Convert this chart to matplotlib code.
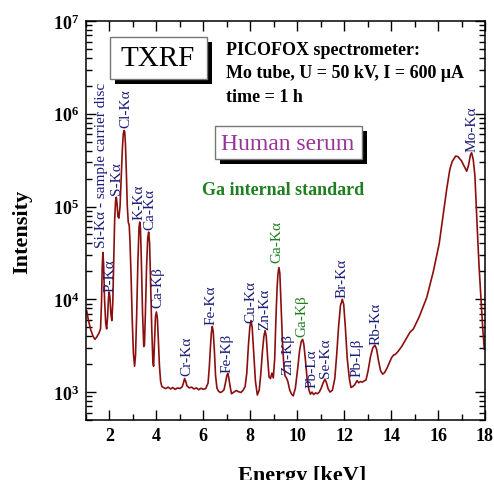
import matplotlib
matplotlib.use("Agg")
import matplotlib.pyplot as plt
from matplotlib.patches import Rectangle
from matplotlib.ticker import FixedLocator, FixedFormatter, MultipleLocator, LogLocator, NullFormatter

plt.rcParams['font.family'] = ['Liberation Serif', 'DejaVu Serif']
plt.rcParams['mathtext.fontset'] = 'custom'
plt.rcParams['mathtext.rm'] = 'Liberation Serif:bold'
plt.rcParams['mathtext.it'] = 'Liberation Serif:bold'
plt.rcParams['mathtext.bf'] = 'Liberation Serif:bold'

# spectrum: energy [keV] and counts
energy = [1.03, 1.10, 1.20, 1.30, 1.38, 1.45, 1.55, 1.62, 1.66, 1.69, 1.72, 1.75, 1.79, 1.84,
          1.88, 1.92, 1.96, 1.99, 2.02, 2.06, 2.10, 2.14, 2.18, 2.22, 2.26, 2.29, 2.32, 2.36,
          2.40, 2.45, 2.50, 2.55, 2.59, 2.62, 2.65, 2.68, 2.72, 2.76, 2.80, 2.84, 2.87, 2.92,
          2.97, 3.02, 3.07, 3.11, 3.16, 3.21, 3.26, 3.29, 3.32, 3.36, 3.41, 3.46, 3.49, 3.53,
          3.58, 3.63, 3.67, 3.71, 3.75, 3.80, 3.85, 3.88, 3.92, 3.96, 4.00, 4.04, 4.08, 4.13,
          4.18, 4.23, 4.30, 4.40, 4.50, 4.60, 4.70, 4.80, 4.90, 5.00, 5.10, 5.15, 5.20, 5.25,
          5.30, 5.40, 5.50, 5.60, 5.70, 5.80, 5.90, 6.00, 6.10, 6.20, 6.25, 6.30, 6.34, 6.38,
          6.42, 6.47, 6.52, 6.58, 6.65, 6.72, 6.80, 6.88, 6.94, 7.00, 7.04, 7.08, 7.14, 7.20,
          7.30, 7.40, 7.50, 7.60, 7.70, 7.78, 7.85, 7.92, 7.98, 8.03, 8.08, 8.15, 8.22, 8.30,
          8.38, 8.45, 8.52, 8.58, 8.63, 8.68, 8.74, 8.80, 8.86, 8.92, 8.98, 9.04, 9.09, 9.14,
          9.18, 9.22, 9.26, 9.31, 9.37, 9.43, 9.48, 9.54, 9.60, 9.68, 9.76, 9.83, 9.92, 10.02,
          10.10, 10.17, 10.23, 10.28, 10.35, 10.42, 10.50, 10.56, 10.63, 10.70, 10.78, 10.86, 10.94,
          11.02, 11.10, 11.18, 11.25, 11.32, 11.40, 11.50, 11.60, 11.68, 11.76, 11.84, 11.92, 11.98,
          12.05, 12.13, 12.22, 12.29, 12.37, 12.45, 12.55, 12.62, 12.70, 12.78, 12.85, 12.93, 13.02,
          13.12, 13.22, 13.31, 13.38, 13.46, 13.55, 13.64, 13.72, 13.82, 13.92, 14.02, 14.10, 14.18,
          14.30, 14.45, 14.60, 14.80, 14.95, 15.20, 15.52, 15.80, 16.05, 16.20, 16.37, 16.50, 16.60,
          16.75, 16.85, 17.00, 17.15, 17.22, 17.30, 17.38, 17.43, 17.50, 17.57, 17.62, 17.67, 17.75,
          17.82, 17.90, 17.97]
counts = [7500, 6000, 4700, 4000, 3700, 3900, 4300, 4800, 9000, 22000, 32000, 24000, 10000, 5500,
          4800, 6500, 10500, 12000, 10500, 7000, 5900, 9000, 25000, 70000, 115000, 126000, 110000, 78000,
          75000, 100000, 200000, 420000, 610000, 660000, 640000, 480000, 230000, 100000, 68000, 63000, 45000, 18000,
          6000, 2600, 1900, 2500, 7000, 25000, 60000, 68000, 58000, 25000, 7000, 3100, 3200, 7000,
          22000, 46000, 53000, 40000, 16000, 5000, 2100, 1900, 3500, 6500, 7300, 6300, 3800, 1900,
          1300, 1150, 1120, 1090, 1130, 1080, 1120, 1070, 1110, 1090, 1140, 1250, 1400, 1300,
          1170, 1110, 1130, 1080, 1110, 1060, 1100, 1070, 1090, 1250, 1800, 3000, 4300, 5100,
          4500, 2800, 1500, 1100, 1020, 990, 1010, 1060, 1250, 1500, 1590, 1450, 1150, 960,
          1000, 1040, 1010, 990, 1050, 1150, 1600, 3200, 5000, 5900, 5000, 2600, 1300, 930,
          1050, 1600, 2800, 4000, 4600, 4000, 2300, 1450, 1400, 1600, 1420, 2300, 6000, 13000,
          19000, 22000, 19000, 9000, 3500, 1900, 1500, 1420, 1300, 1050, 950, 910, 1100, 1800,
          2800, 3500, 3700, 3300, 2200, 1400, 1050, 950, 1000, 940, 980, 960, 1000,
          1100, 1250, 1380, 1250, 1080, 1000, 1050, 1400, 2500, 5000, 8500, 10000, 8800,
          5000, 2300, 1400, 1120, 1150, 1200, 1330, 1260, 1300, 1280, 1320, 1350, 1700,
          2400, 3000, 3200, 2900, 2200, 1700, 1560, 1620, 1800, 2050, 2350, 2500, 2550,
          2750, 3100, 3600, 4400, 4800, 6500, 10500, 20000, 40000, 75000, 155000, 250000, 305000,
          350000, 345000, 310000, 260000, 240000, 280000, 360000, 380000, 320000, 215000, 110000, 58000, 22000,
          11000, 5000, 2900]

# peak labels: text, energy, count at label foot, colour
navy = '#1c1c7a'
green = '#1f7f1f'
peak_labels = [
    ('Si-K\u03b1 - sample carrier disc', 1.67, 3.66e4, navy),
    ('P-K\u03b1', 2.02, 1.24e4, navy),
    ('S-K\u03b1', 2.31, 1.36e5, navy),
    ('Cl-K\u03b1', 2.70, 7.2e5, navy),
    ('K-K\u03b1', 3.27, 7.3e4, navy),
    ('Ca-K\u03b1', 3.71, 5.7e4, navy),
    ('Ca-K\u03b2', 4.08, 8.2e3, navy),
    ('Cr-K\u03b1', 5.30, 1520, navy),
    ('Fe-K\u03b1', 6.33, 5400, navy),
    ('Fe-K\u03b2', 7.03, 1640, navy),
    ('Cu-K\u03b1', 8.03, 5700, navy),
    ('Zn-K\u03b1', 8.63, 4780, navy),
    ('Ga-K\u03b1', 9.12, 2.52e4, green),
    ('Zn-K\u03b2', 9.59, 1560, navy),
    ('Ga-K\u03b2', 10.19, 4020, green),
    ('Pb-L\u03b1', 10.62, 1130, navy),
    ('Se-K\u03b1', 11.21, 1450, navy),
    ('Br-K\u03b1', 11.89, 1.06e4, navy),
    ('Pb-L\u03b2', 12.53, 1490, navy),
    ('Rb-K\u03b1', 13.36, 3300, navy),
    ('Mo-K\u03b1', 17.43, 3.96e5, navy),
]

xticks = [2, 4, 6, 8, 10, 12, 14, 16, 18]
yticks = [1e3, 1e4, 1e5, 1e6, 1e7]
ytick_labels = [r'$10^{3}$', r'$10^{4}$', r'$10^{5}$', r'$10^{6}$', r'$10^{7}$']

W, H = 494, 481
fig = plt.figure(figsize=(W / 100, H / 100), dpi=100)
ax = fig.add_axes([86 / W, 1 - 421 / H, (485 - 86) / W, (421 - 22) / H])

ax.plot(energy, counts, color='#8b0f0f', lw=1.2)
ax.set_yscale('log')
ax.set_xlim(1, 18)
ax.set_ylim(500, 1e7)

ax.xaxis.set_major_locator(FixedLocator(xticks))
ax.xaxis.set_minor_locator(MultipleLocator(1))
ax.yaxis.set_major_locator(FixedLocator(yticks))
ax.yaxis.set_major_formatter(FixedFormatter(ytick_labels))
ax.yaxis.set_minor_locator(LogLocator(base=10, subs=range(2, 10)))
ax.yaxis.set_minor_formatter(NullFormatter())
ax.tick_params(which='both', direction='in', top=True, right=True, width=1)
ax.tick_params(which='major', length=7, labelsize=13, pad=5)
ax.tick_params(which='minor', length=4)
for lab in ax.get_xticklabels():
    lab.set_fontweight('bold')
for s in ax.spines.values():
    s.set_linewidth(1.1)

for txt, e, c, col in peak_labels:
    ax.text(e, c, txt, rotation=90, ha='center', va='bottom', color=col, fontsize=11)


def fx(x):
    return x / W


def fy(y):
    return 1 - y / H


def shadow_box(x0, y0, x1, y1, off=5):
    fig.add_artist(Rectangle((fx(x0 + off), fy(y1 + off)), (x1 - x0) / W, (y1 - y0) / H,
                             transform=fig.transFigure, facecolor='black', edgecolor='none'))
    fig.add_artist(Rectangle((fx(x0), fy(y1)), (x1 - x0) / W, (y1 - y0) / H,
                             transform=fig.transFigure, facecolor='white', edgecolor='#777777', lw=1))


shadow_box(110, 38, 207, 80)
fig.text(fx(158), fy(59), 'TXRF', ha='center', va='center', fontsize=21, color='black')

shadow_box(215, 127, 362, 160)
fig.text(fx(288), fy(144), 'Human serum', ha='center', va='center', fontsize=17, color='#993399')

info = ['PICOFOX spectrometer:', 'Mo tube, U = 50 kV, I = 600 \u03bcA', 'time = 1 h']
for i, line in enumerate(info):
    fig.text(fx(226), fy(55 + 23.5 * i), line, ha='left', va='baseline', fontsize=13, fontweight='bold')

fig.text(fx(283), fy(195), 'Ga internal standard', ha='center', va='baseline', fontsize=13,
         fontweight='bold', color=green)

fig.text(fx(302), fy(481), 'Energy [keV]', ha='center', va='baseline', fontsize=16, fontweight='bold')
fig.text(fx(22), fy(232), 'Intensity', ha='center', va='center', rotation=90, fontsize=16, fontweight='bold')

plt.savefig('out.png', dpi=100)
